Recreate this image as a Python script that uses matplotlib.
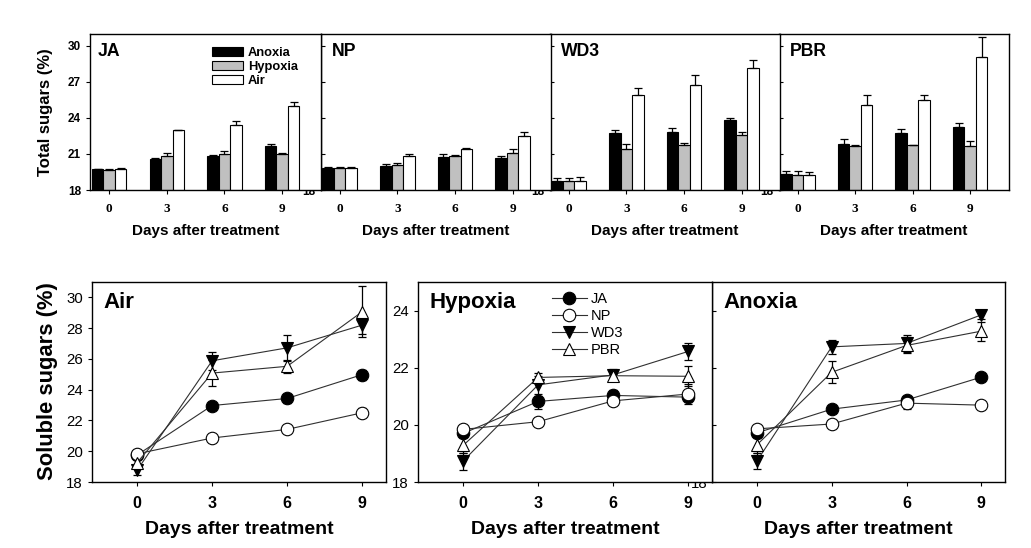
import matplotlib
matplotlib.use('Agg')
import matplotlib.pyplot as plt
import numpy as np

plt.rcParams['font.family'] = 'Liberation Sans'

days = [0, 3, 6, 9]
cultivars = ['JA', 'NP', 'WD3', 'PBR']
treatments = ['Anoxia', 'Hypoxia', 'Air']

# sugar content (%) per cultivar, rows = Anoxia, Hypoxia, Air
ja = [[19.72, 20.55, 20.87, 21.67],
      [19.70, 20.82, 21.03, 20.97],
      [19.75, 22.97, 23.43, 24.98]]
np_ = [[19.86, 20.03, 20.76, 20.69],
       [19.84, 20.11, 20.84, 21.08],
       [19.83, 20.86, 21.42, 22.50]]
wd3 = [[18.73, 22.73, 22.85, 23.85],
       [18.73, 21.40, 21.75, 22.57],
       [18.76, 25.88, 26.72, 28.20]]
pbr = [[19.30, 21.84, 22.78, 23.28],
       [19.28, 21.66, 21.72, 21.70],
       [19.25, 25.08, 25.52, 29.07]]

# standard errors, same layout
ja_err = [[0.05, 0.12, 0.05, 0.15],
          [0.05, 0.25, 0.20, 0.15],
          [0.05, 0.05, 0.30, 0.33]]
np_err = [[0.05, 0.15, 0.20, 0.15],
          [0.05, 0.14, 0.05, 0.35],
          [0.05, 0.15, 0.05, 0.30]]
wd3_err = [[0.28, 0.25, 0.30, 0.15],
           [0.30, 0.40, 0.20, 0.30],
           [0.30, 0.58, 0.85, 0.60]]
pbr_err = [[0.28, 0.38, 0.28, 0.33],
           [0.28, 0.05, 0.05, 0.35],
           [0.28, 0.85, 0.42, 1.65]]

data = [ja, np_, wd3, pbr]
errs = [ja_err, np_err, wd3_err, pbr_err]

bar_colors = ['black', '#c0c0c0', 'white']
mk = {'JA': ('o', 'black'), 'NP': ('o', 'white'), 'WD3': ('v', 'black'), 'PBR': ('^', 'white')}

W, H = 1031, 548
fig = plt.figure(figsize=(W / 100, H / 100), dpi=100)


def px_axes(x0, y0, x1, y1):
    return fig.add_axes([x0 / W, 1 - y1 / H, (x1 - x0) / W, (y1 - y0) / H])


# ---- top row: total sugars bars ----
lefts = [90, 320.5, 549.5, 778.5]
x = np.array(days, dtype=float)
bw = 0.6
for i, cv in enumerate(cultivars):
    ax = px_axes(lefts[i], 34, lefts[i] + 230.5 if i < 3 else 1008.5, 190)
    ax.set_zorder(10 - i)  # earlier panel hides next panel's tick labels
    for j, tr in enumerate(treatments):
        vals = np.array(data[i][j])
        e = np.array(errs[i][j])
        ax.bar(x + (j - 1) * bw, vals - 18, bw, bottom=18, color=bar_colors[j],
               edgecolor='black', linewidth=0.8, label=tr)
        ax.errorbar(x + (j - 1) * bw, vals, yerr=[np.zeros(4), e], fmt='none',
                    ecolor='black', elinewidth=0.9, capsize=3, capthick=0.9)
    ax.set_xlim(-1, 11)
    ax.set_ylim(18, 31)
    ax.set_yticks([18, 21, 24, 27, 30], ['18', '21', '24', '27', '30'], fontweight='bold', fontsize=8.5)
    ax.set_xticks(days, [str(d) for d in days], fontweight='bold', fontsize=9.5, family='Liberation Serif')
    ax.tick_params(axis='x', direction='out', length=3, pad=6)
    if i == 0:
        ax.tick_params(axis='y', direction='out', length=3)
        ax.legend(loc='upper left', bbox_to_anchor=(0.50, 0.96), frameon=False,
                  prop={'weight': 'bold', 'size': 9.3}, handlelength=2.4, handleheight=0.7,
                  handletextpad=0.4, labelspacing=0.15, borderpad=0)
    else:
        ax.tick_params(axis='y', direction='in', length=3)
    ax.text(0.035 if i == 0 else 0.05, 0.94, cv, transform=ax.transAxes, fontsize=12.7,
            fontweight='bold', va='top', ha='left')
    ax.set_xlabel('Days after treatment', fontsize=11, fontweight='bold', labelpad=7)
    for s in ax.spines.values():
        s.set_linewidth(1)

fig.text(0.044, 1 - 112 / H, 'Total sugars (%)', rotation=90, fontsize=12, fontweight='bold',
         ha='center', va='center')

# ---- bottom row: soluble sugars lines ----
panels = [('Air', 2, (92, 386), (18, 31), [18, 20, 22, 24, 26, 28, 30]),
          ('Hypoxia', 1, (418, 712), (18, 25), [18, 20, 22, 24]),
          ('Anoxia', 0, (712, 1005), (18, 25), [18, 20, 22, 24])]
for k, (name, tj, (x0, x1), ylim, yt) in enumerate(panels):
    ax = px_axes(x0, 282, x1, 482)
    ax.set_zorder(10 - k)
    handles = []
    for i, cv in enumerate(cultivars):
        m, fc = mk[cv]
        ax.errorbar(days, data[i][tj], yerr=errs[i][tj], fmt='none', ecolor='black',
                    elinewidth=0.9, capsize=3, capthick=0.9, zorder=2)
        ln, = ax.plot(days, data[i][tj], color='#303030', lw=0.8, marker=m, markersize=9,
                      markerfacecolor=fc, markeredgecolor='black', markeredgewidth=0.8,
                      label=cv, zorder=3)
        handles.append(ln)
    ax.set_xlim(-1.8, 9.95)
    ax.set_ylim(*ylim)
    ax.set_yticks(yt, [str(v) for v in yt], fontsize=10.8)
    ax.set_xticks(days, [str(d) for d in days], fontweight='bold', fontsize=11.5)
    ax.tick_params(axis='x', direction='out', length=3, pad=7)
    ax.tick_params(axis='y', direction='out' if k < 2 else 'in', length=3)
    ax.text(0.04, 0.95, name, transform=ax.transAxes, fontsize=16, fontweight='bold',
            va='top', ha='left')
    ax.set_xlabel('Days after treatment', fontsize=14, fontweight='bold', labelpad=7)
    if name == 'Hypoxia':
        ax.legend(handles=handles, loc='upper left', bbox_to_anchor=(0.43, 0.985), frameon=False,
                  fontsize=10.5, handlelength=2.4, handletextpad=0.3, labelspacing=0.2,
                  borderpad=0)
    for s in ax.spines.values():
        s.set_linewidth(1)

fig.text(0.046, 1 - 381 / H, 'Soluble sugars (%)', rotation=90, fontsize=15.8, fontweight='bold',
         ha='center', va='center')

fig.savefig('out.png', dpi=100)
